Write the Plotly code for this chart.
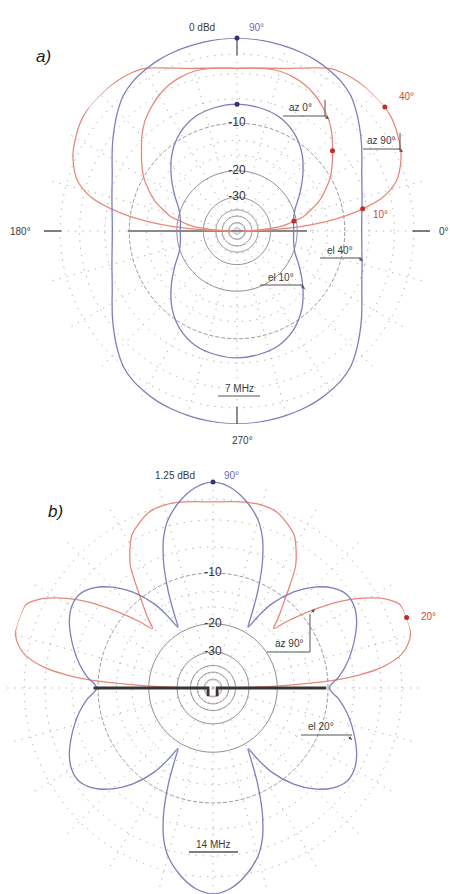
import numpy as np
import plotly.graph_objects as go

W, H = 450, 894

# ---------------- Panel a) 7 MHz : dB relative to 0 dBd peak ----------------
# azimuth pattern at 40 deg elevation (one quadrant read, pattern symmetric in 4 quadrants)
a_az_el40_theta = [0, 5, 10, 15, 20, 25, 30, 35, 40, 45, 50, 55, 60, 65, 70, 75, 80, 85, 90]
a_az_el40_db = [-7.5, -7.42, -7.2, -6.85, -6.4, -5.8, -5.0, -4.1, -3.2, -2.3, -1.5, -1.0,
                -0.7, -0.45, -0.3, -0.2, -0.1, -0.03, 0.0]
# azimuth pattern at 10 deg elevation
a_az_el10_theta = [0, 10, 20, 30, 40, 50, 60, 70, 80, 90]
a_az_el10_db = [-21.0, -20.8, -19.6, -16.9, -13.9, -11.1, -9.1, -7.9, -7.4, -7.2]
# elevation pattern toward azimuth 90 deg (0..90 read, symmetric about zenith)
a_el_az90_theta = [0, 1, 2, 4, 6, 8, 10, 13, 17, 20, 25, 30, 35, 40, 45, 50, 55, 60,
                   65, 70, 75, 80, 85, 90]
a_el_az90_db = [-60, -42, -31, -19, -13.2, -9.6, -7.1, -4.4, -2.6, -1.9, -1.1, -0.6, -0.2,
                0.0, 0.0, -0.05, -0.2, -0.5, -1.2, -1.85, -2.35, -2.65, -2.85, -2.93]
# elevation pattern toward azimuth 0 deg
a_el_az0_theta = [0, 3, 5, 7, 10, 12, 15, 20, 25, 30, 35, 40, 45, 50, 55, 60, 65, 70,
                  75, 80, 85, 90]
a_el_az0_db = [-60, -35, -28, -23.8, -20.7, -18.1, -16.4, -13.6, -11.7, -10.0, -8.7, -7.5,
               -6.2, -5.1, -4.3, -3.6, -3.1, -2.8, -2.65, -2.7, -2.85, -2.93]
a_mark_blue_theta = [90, 90]
a_mark_blue_db = [0.0, -7.2]
a_mark_red_theta = [40, 10, 40, 10]
a_mark_red_db = [0.0, -7.1, -7.5, -20.7]
a_wire_x = [-0.565, 0.0, 0.363]   # fraction of outer radius
a_wire_y = [0.0, 0.0, 0.0]

# ---------------- Panel b) 14 MHz : dB relative to 1.25 dBd peak ----------------
b_az_el20_theta = [0, 5, 10, 15, 20, 25, 30, 35, 40, 45, 50, 55, 58, 60, 62, 65, 68, 70,
                   72, 75, 80, 85, 90]
b_az_el20_db = [-9.8, -8.4, -7.2, -6.2, -5.3, -4.5, -4.0, -4.0, -4.8, -6.3, -8.5, -11.9,
                -15.5, -18.5, -16.0, -11.5, -7.8, -5.9, -4.4, -2.9, -1.4, -0.4, 0.0]
b_el_az90_theta = [0, 1, 2, 3, 4, 5, 7, 10, 13, 16, 20, 24, 27, 30, 33, 36, 39, 42, 44.5,
                   47, 50, 53, 56, 59, 62, 65, 70, 75, 80, 85, 90]
b_el_az90_db = [-60, -30, -18.5, -12.1, -8.2, -6.0, -3.3, -1.3, -0.45, -0.05, 0.0, -0.1,
                -0.9, -2.3, -4.1, -6.5, -9.3, -12.5, -15.2, -13.2, -10.9, -8.3, -5.7,
                -4.2, -3.0, -2.4, -1.65, -1.45, -1.5, -1.65, -1.75]
b_mark_blue_theta = [90]
b_mark_blue_db = [0.0]
b_mark_red_theta = [20]
b_mark_red_db = [0.0]
b_wire_left_x = [-0.58, -0.024, -0.024]
b_wire_left_y = [0.0, 0.0, -0.04]
b_wire_right_x = [0.55, 0.02, 0.02]
b_wire_right_y = [0.0, 0.0, -0.04]

# ---------------- grid levels ----------------
ring_dotted_db = [0, -1.5, -3.5, -6.5, -13, -16]
ring_dashed_db = [-10]
ring_solid_db = [-20, -30, -38, -44, -54]
ring_center_db = [-70]
ring_label_db = [-10, -20, -30]
ring_label_text = ["-10", "-20", "-30"]
cardinal_theta = [0, 90, 180, 270]

BLUE = "#7e7ebc"
RED = "#e6897a"
FONT = "Liberation Sans, Arial, sans-serif"


def arrl(db):
    """ARRL log-periodic radial scale: 0.89 of radius per 2 dB."""
    return 0.89 ** (-np.asarray(db, dtype=float) / 2.0)


def quad4(th, v):
    th = np.asarray(th, float); v = np.asarray(v, float)
    T = np.concatenate([th, 180 - th[::-1][1:], 180 + th[1:], 360 - th[::-1][1:]])
    V = np.concatenate([v, v[::-1][1:], v[1:], v[::-1][1:]])
    return T, V


def half(th, v):
    th = np.asarray(th, float); v = np.asarray(v, float)
    return np.concatenate([th, 180 - th[::-1][1:]]), np.concatenate([v, v[::-1][1:]])


def xy_to_polar(x, y):
    x = np.asarray(x, float); y = np.asarray(y, float)
    return np.hypot(x, y), np.degrees(np.arctan2(y, x))


fig = go.Figure()
circle_t = np.arange(0, 361, 3)


def add_grid(sub, solid, with_center):
    for d in ring_dashed_db:
        fig.add_trace(go.Scatterpolar(r=np.full(circle_t.shape, arrl(d)), theta=circle_t,
                                      mode="lines", subplot=sub, hoverinfo="skip",
                                      line=dict(color="#9a9a9a", width=1, dash="4px,2px")))
    levels = list(solid) + (ring_center_db if with_center else [])
    for d in levels:
        fig.add_trace(go.Scatterpolar(r=np.full(circle_t.shape, arrl(d)), theta=circle_t,
                                      mode="lines", subplot=sub, hoverinfo="skip",
                                      line=dict(color="#8e8e8e", width=1)))


def add_curve(sub, T, V, color):
    fig.add_trace(go.Scatterpolar(r=arrl(V), theta=T, mode="lines", subplot=sub,
                                  line=dict(color=color, width=1.3, shape="spline"),
                                  hoverinfo="skip"))


def add_marks(sub, T, V, color):
    fig.add_trace(go.Scatterpolar(r=arrl(V), theta=T, mode="markers", subplot=sub,
                                  marker=dict(color=color, size=5), hoverinfo="skip"))


def add_labels(sub, size):
    fig.add_trace(go.Scatterpolar(r=arrl(ring_label_db), theta=[90] * len(ring_label_db),
                                  mode="text", text=ring_label_text, subplot=sub,
                                  textfont=dict(family=FONT, size=size, color="#333"),
                                  hoverinfo="skip"))


# ---- panel a ----
add_grid("polar", ring_solid_db, True)
r_w, t_w = xy_to_polar(a_wire_x, a_wire_y)
fig.add_trace(go.Scatterpolar(r=r_w, theta=t_w, mode="lines", subplot="polar",
                              line=dict(color="#8a8a8a", width=2.2), hoverinfo="skip"))
for th, v in [(a_el_az90_theta, a_el_az90_db), (a_el_az0_theta, a_el_az0_db)]:
    T, V = half(th, v)
    add_curve("polar", T, V, RED)
for th, v in [(a_az_el40_theta, a_az_el40_db), (a_az_el10_theta, a_az_el10_db)]:
    T, V = quad4(th, v)
    add_curve("polar", T, V, BLUE)
for th in cardinal_theta:
    fig.add_trace(go.Scatterpolar(r=[0.91, 1.0], theta=[th, th], mode="lines",
                                  subplot="polar", line=dict(color="#555", width=1.3),
                                  hoverinfo="skip"))
add_marks("polar", a_mark_blue_theta, a_mark_blue_db, "#33336e")
add_marks("polar", a_mark_red_theta, a_mark_red_db, "#c42a2a")
add_labels("polar", 12)

# ---- panel b ----
add_grid("polar2", ring_solid_db, False)
T, V = half(b_el_az90_theta, b_el_az90_db)
add_curve("polar2", T, V, RED)
T, V = quad4(b_az_el20_theta, b_az_el20_db)
add_curve("polar2", T, V, BLUE)
for wx, wy in [(b_wire_left_x, b_wire_left_y), (b_wire_right_x, b_wire_right_y)]:
    r_w, t_w = xy_to_polar(wx, wy)
    fig.add_trace(go.Scatterpolar(r=r_w, theta=t_w, mode="lines", subplot="polar2",
                                  line=dict(color="#3b3232", width=2.8), hoverinfo="skip"))
add_marks("polar2", b_mark_blue_theta, b_mark_blue_db, "#33336e")
add_marks("polar2", b_mark_red_theta, b_mark_red_db, "#c42a2a")
add_labels("polar2", 12)


def polar_layout(cx, cy, R):
    return dict(
        domain=dict(x=[(cx - R) / W, (cx + R) / W], y=[1 - (cy + R) / H, 1 - (cy - R) / H]),
        bgcolor="white",
        radialaxis=dict(range=[0, 1], tickvals=list(arrl(ring_dotted_db)), showticklabels=False,
                        ticks="", showline=False, gridcolor="#a9a9a9", griddash="1.3px,6px",
                        gridwidth=1.3, angle=90),
        angularaxis=dict(tickmode="linear", tick0=0, dtick=15, showticklabels=False, ticks="",
                         showline=False, gridcolor="#b0b0b0", griddash="1.3px,6px",
                         gridwidth=1.3, rotation=0, direction="counterclockwise"),
    )


def P(px, py):
    return px / W, 1 - py / H


ann = []


def text(px, py, s, size=10, color="#3a3a3a", anchor="center"):
    x, y = P(px, py)
    ann.append(dict(x=x, y=y, xref="paper", yref="paper", text=s, showarrow=False,
                    xanchor=anchor, yanchor="middle",
                    font=dict(family=FONT, size=size, color=color)))


def arrow(hx, hy, tx, ty):
    x, y = P(hx, hy)
    ann.append(dict(x=x, y=y, xref="paper", yref="paper", text="", showarrow=True,
                    ax=tx - hx, ay=ty - hy, arrowhead=2, arrowsize=0.7, arrowwidth=1,
                    arrowcolor="#555"))


shapes = []


def seg(x0, y0, x1, y1, w=1.0, color="#555"):
    a0, b0 = P(x0, y0)
    a1, b1 = P(x1, y1)
    shapes.append(dict(type="line", xref="paper", yref="paper", x0=a0, y0=b0, x1=a1, y1=b1,
                       line=dict(color=color, width=w)))


# panel a texts
text(43, 57, "<i>a)</i>", size=17, color="#1a1a1a")
text(202, 27, "0 dBd", 10)
text(256, 27, "90°", 10, color="#6a6ac0")
text(20, 232, "180°", 10)
text(437, 232, "0°", 10, anchor="left")
text(242, 440, "270°", 10)
text(239, 388, "7 MHz", 10)
seg(218, 396, 260, 396, 1.2)
text(300, 107, "az 0°", 10)
seg(283, 116, 325, 116)
seg(325, 100, 325, 116)
arrow(329, 119, 323, 115)
text(381, 140, "az 90°", 10)
seg(363, 149, 400, 149)
seg(400, 133, 400, 149)
arrow(403, 152, 397, 148)
text(340, 250, "el 40°", 10)
seg(320, 258, 361, 258)
arrow(363, 261, 357, 257)
text(281, 277, "el 10°", 10)
seg(260, 285, 303, 285)
arrow(305, 289, 299, 284)
text(406, 97, "40°", 10, color="#d04545")
text(380, 214, "10°", 10, color="#d04545")

# panel b texts
text(55, 511, "<i>b)</i>", size=17, color="#1a1a1a")
text(175, 475, "1.25 dBd", 10)
text(231, 475, "90°", 10, color="#6a6ac0")
text(428, 616, "20°", 10, color="#d04545")
text(289, 643, "az 90°", 10)
seg(267, 652, 310, 652)
seg(310, 614, 310, 652)
arrow(315, 609, 310, 614)
text(321, 726, "el 20°", 10)
seg(301, 735, 352, 735)
arrow(352, 740, 347, 735)
text(213, 844, "14 MHz", 10)
seg(189, 852, 238, 852, 1.6)

fig.update_layout(
    width=W, height=H, autosize=False,
    margin=dict(l=0, r=0, t=0, b=0),
    paper_bgcolor="white", plot_bgcolor="white",
    showlegend=False,
    polar=polar_layout(237, 231, 193),
    polar2=polar_layout(213, 688, 206),
    annotations=ann, shapes=shapes,
    font=dict(family=FONT),
)

fig.write_html("out.html", config={"displayModeBar": False},
               post_script="document.body.style.margin='0';document.body.style.overflow='hidden';")
